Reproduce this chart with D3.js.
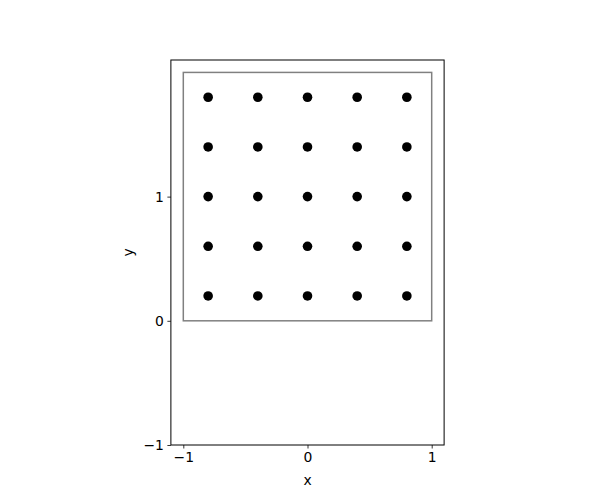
<!DOCTYPE html>
<html><head><meta charset="utf-8">
<script src="https://cdn.jsdelivr.net/npm/d3@7"></script>
<style>body{margin:0;background:#fff}svg{display:block}text{font-family:"DejaVu Sans",sans-serif}</style>
</head><body>
<script>
const xVals = [-0.8, -0.4, 0, 0.4, 0.8];
const yVals = [0.2, 0.6, 1.0, 1.4, 1.8];
const rectX = [-1, 1];
const rectY = [0, 2];
const xTicks = [-1, 0, 1];
const yTicks = [-1, 0, 1];
const xDomain = [-1.1, 1.1];
const yDomain = [-1, 2.1];

(function () {
const W = 600, H = 500;
const mTop = 60, mBottom = 445;
const unit = (mBottom - mTop) / (yDomain[1] - yDomain[0]);
const cx = 307.5;
const mLeft = cx - unit * (xDomain[1] - xDomain[0]) / 2;
const mRight = cx + unit * (xDomain[1] - xDomain[0]) / 2;

const svg = d3.select("body").append("svg").attr("width", W).attr("height", H);
const x = d3.scaleLinear().domain(xDomain).range([mLeft, mRight]);
const y = d3.scaleLinear().domain(yDomain).range([mBottom, mTop]);

const fmt = d => d < 0 ? "\u2212" + Math.abs(d) : String(d);

svg.append("rect")
  .attr("x", x(rectX[0])).attr("y", y(rectY[1]))
  .attr("width", x(rectX[1]) - x(rectX[0])).attr("height", y(rectY[0]) - y(rectY[1]))
  .attr("fill", "none").attr("stroke", "#808080").attr("stroke-width", 1.5);

const pts = [];
yVals.forEach(yv => xVals.forEach(xv => pts.push([xv, yv])));
svg.append("g").selectAll("circle").data(pts).join("circle")
  .attr("cx", d => x(d[0])).attr("cy", d => y(d[1])).attr("r", 4.8).attr("fill", "#000");

const xAxis = svg.append("g").attr("transform", `translate(0,${mBottom})`)
  .call(d3.axisBottom(x).tickValues(xTicks).tickFormat(fmt).tickSize(3.5).tickPadding(3.5));
const yAxis = svg.append("g").attr("transform", `translate(${mLeft},0)`)
  .call(d3.axisLeft(y).tickValues(yTicks).tickFormat(fmt).tickSize(3.5).tickPadding(3.5));
[xAxis, yAxis].forEach(a => {
  a.select(".domain").remove();
  a.selectAll("text").attr("fill", "#000").style("font-size", "13.9px").style("font-family", "DejaVu Sans");
  a.selectAll("line").attr("stroke", "#000").attr("stroke-width", 0.8);
});

svg.append("rect").attr("x", mLeft).attr("y", mTop).attr("width", mRight - mLeft).attr("height", mBottom - mTop)
  .attr("fill", "none").attr("stroke", "#000").attr("stroke-width", 1);

svg.append("text").attr("x", cx).attr("y", 485).attr("text-anchor", "middle")
  .style("font-size", "13.9px").text("x");
svg.append("text").attr("transform", `translate(133,${(mTop + mBottom) / 2}) rotate(-90)`)
  .attr("text-anchor", "middle").style("font-size", "13.9px").text("y");
})();
</script>
</body></html>
